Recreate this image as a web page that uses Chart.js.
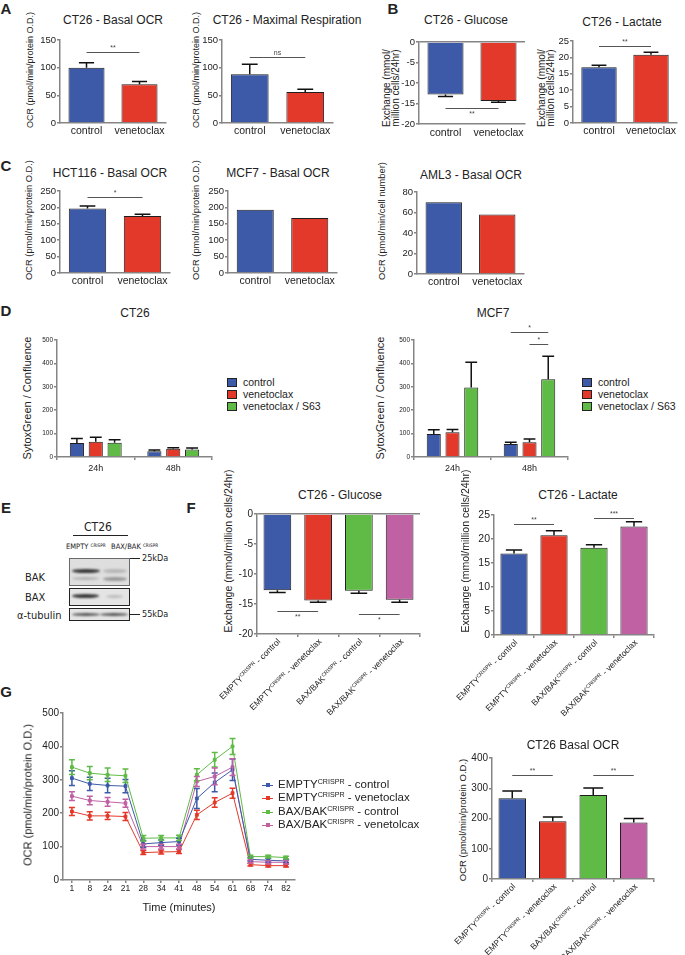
<!DOCTYPE html>
<html>
<head>
<meta charset="utf-8">
<title>CT26 venetoclax figure</title>
<script src="https://cdn.jsdelivr.net/npm/chart.js@4.4.1/dist/chart.umd.min.js"></script>
<style>
  html, body { margin: 0; padding: 0; background: #fff; }
  body { position: relative; width: 685px; height: 955px; overflow: hidden;
         font-family: "Liberation Sans", Arial, sans-serif; color: #222; }
  canvas { position: absolute; }
  .t { position: absolute; white-space: nowrap; transform: translate(-50%, -50%); line-height: 1; }
  .l { position: absolute; white-space: nowrap; transform: translate(0, -50%); line-height: 1; }
  .v { transform: translate(-50%, -50%) rotate(-90deg); text-align: center; }
  .slant { position: absolute; white-space: nowrap; line-height: 1; transform-origin: 0 0;
           transform: rotate(-45deg) translate(-100%, -50%); }
  .narrow { font-family: "Liberation Sans Narrow", "DejaVu Sans Condensed", "Liberation Sans", Arial, sans-serif; }
  sup { font-size: 0.62em; vertical-align: 0.55em; line-height: 0; }
  .box { position: absolute; box-sizing: border-box; }
</style>
</head>
<body>
<script>
// ---- data ----
const twoGroups = ['control', 'venetoclax'];
const ct26BasalOcr = [100, 70];
const ct26BasalOcrSem = [9, 5];
const ct26MaxResp = [88, 56];
const ct26MaxRespSem = [18, 5];
const ct26Glucose = [-12.8, -14.4];
const ct26GlucoseSem = [0.5, 0.3];
const ct26Lactate = [17.0, 20.8];
const ct26LactateSem = [0.6, 0.8];
const hct116Ocr = [197, 174];
const hct116OcrSem = [7, 5];
const mcf7Ocr = [193, 168];
const aml3Ocr = [70, 58];

const timePoints = ['24h', '48h'];
const sytoxGroups = ['control', 'venetoclax', 'venetoclax / S63'];
const ct26SytoxCtrl = [60, 25], ct26SytoxCtrlSem = [19, 5];
const ct26SytoxVen = [65, 35], ct26SytoxVenSem = [19, 4];
const ct26SytoxS63 = [61, 32], ct26SytoxS63Sem = [13, 6];
const mcf7SytoxCtrl = [98, 56], mcf7SytoxCtrlSem = [18, 7];
const mcf7SytoxVen = [106, 63], mcf7SytoxVenSem = [11, 14];
const mcf7SytoxS63 = [297, 332], mcf7SytoxS63Sem = [108, 99];

const crisprGroups = ['EMPTY|CRISPR| - control', 'EMPTY|CRISPR| - venetoclax',
                      'BAX/BAK|CRISPR| - control', 'BAX/BAK|CRISPR| - venetoclax'];
const crisprGlucose = [-12.7, -14.4, -12.8, -14.3];
const crisprGlucoseSem = [0.4, 0.3, 0.4, 0.4];
const crisprLactate = [17.0, 20.8, 18.2, 22.6];
const crisprLactateSem = [0.7, 0.9, 0.6, 1.0];
const crisprBasalOcr = [267, 191, 278, 187];
const crisprBasalOcrSem = [24, 14, 23, 13];

const minutes = ['1', '8', '24', '21', '28', '34', '41', '48', '54', '61', '68', '74', '82'];
const seriesNames = ['EMPTY|CRISPR| - control', 'EMPTY|CRISPR| - venetoclax',
                     'BAX/BAK|CRISPR| - control', 'BAX/BAK|CRISPR| - venetolcax'];
const emptyCtrl = [305, 288, 283, 281, 108, 112, 115, 244, 292, 330, 62, 59, 57];
const emptyCtrlSem = [22, 20, 22, 20, 10, 8, 10, 30, 28, 32, 5, 5, 5];
const emptyVen = [205, 192, 192, 190, 82, 84, 85, 195, 232, 260, 46, 43, 43];
const emptyVenSem = [12, 12, 11, 12, 6, 6, 6, 14, 14, 15, 4, 4, 4];
const baxCtrl = [338, 320, 315, 312, 125, 126, 126, 315, 360, 400, 70, 70, 67];
const baxCtrlSem = [22, 20, 20, 20, 8, 7, 8, 18, 22, 24, 4, 4, 4];
const baxVen = [251, 238, 234, 230, 100, 100, 100, 295, 310, 338, 55, 53, 53];
const baxVenSem = [13, 13, 13, 12, 7, 7, 7, 15, 25, 25, 5, 5, 5];

// ---- styling ----
const BLUE = '#3d5aa9', RED = '#e2392a', GREEN = '#5fbb46', PINK = '#c061a4';
const AXIS = '#858585';
const FONT = '"Liberation Sans", Arial, sans-serif';
Chart.defaults.font.family = FONT;
Chart.defaults.color = '#222';

function rich(s) {
    const p = s.split('|');
    return p.length === 3 ? p[0] + '<sup>' + p[1] + '</sup>' + p[2] : s;
}

function txt(s, x, y, size, cls, extra) {
    const d = document.createElement('div');
    d.className = cls || 't';
    d.style.left = x + 'px';
    d.style.top = y + 'px';
    d.style.fontSize = size + 'px';
    if (extra) Object.assign(d.style, extra);
    d.innerHTML = rich(s);
    document.body.appendChild(d);
    return d;
}

function block(l, t, w, h, style) {
    const d = document.createElement('div');
    d.className = 'box';
    Object.assign(d.style, { left: l + 'px', top: t + 'px', width: w + 'px', height: h + 'px' }, style);
    document.body.appendChild(d);
    return d;
}

// canvas around a plot rectangle [left, top, right, bottom] with margins for ticks
function place(r, m) {
    const c = document.createElement('canvas');
    const w = r[2] - r[0] + m.l + m.r, h = r[3] - r[1] + m.t + m.b;
    c.width = w;
    c.height = h;
    Object.assign(c.style, { left: (r[0] - m.l) + 'px', top: (r[1] - m.t) + 'px', width: w + 'px', height: h + 'px' });
    document.body.appendChild(c);
    return c;
}

const errorBars = {
    id: 'errorBars',
    afterDatasetsDraw(chart) {
        const ctx = chart.ctx, ys = chart.scales.y, isLine = chart.config.type === 'line';
        chart.data.datasets.forEach((ds, di) => {
            if (!ds.err) return;
            chart.getDatasetMeta(di).data.forEach((el, i) => {
                const v = ds.data[i], e = ds.err[i];
                const lo = isLine ? v - e : v;
                const hi = v < 0 ? v - e : v + e;
                const x = el.x, y0 = ys.getPixelForValue(lo), y1 = ys.getPixelForValue(hi);
                const w = isLine ? ds.cap : el.width * ds.cap;
                ctx.save();
                ctx.strokeStyle = isLine ? ds.borderColor : '#111';
                ctx.lineWidth = 1.5;
                ctx.beginPath();
                ctx.moveTo(x, y0); ctx.lineTo(x, y1);
                ctx.moveTo(x - w, y1); ctx.lineTo(x + w, y1);
                if (isLine) { ctx.moveTo(x - w, y0); ctx.lineTo(x + w, y0); }
                ctx.stroke();
                ctx.restore();
            });
        });
    }
};

function sigLines(items) {
    return {
        id: 'sigLines',
        afterDatasetsDraw(chart) {
            const ctx = chart.ctx, ys = chart.scales.y;
            items.forEach(s => {
                const a = chart.getDatasetMeta(s.a[0]).data[s.a[1]];
                const b = chart.getDatasetMeta(s.b[0]).data[s.b[1]];
                const py = Math.round(ys.getPixelForValue(s.v)) + 0.5;
                ctx.save();
                ctx.strokeStyle = '#555';
                ctx.lineWidth = 1;
                ctx.beginPath();
                ctx.moveTo(a.x, py); ctx.lineTo(b.x, py);
                ctx.stroke();
                ctx.fillStyle = '#444';
                ctx.font = '7px ' + FONT;
                ctx.textAlign = 'center';
                ctx.textBaseline = s.below ? 'top' : 'bottom';
                ctx.fillText(s.t, (a.x + b.x) / 2, s.below ? py + 2 : py - 1);
                ctx.restore();
            });
        }
    };
}

function baseOptions(m, x, y) {
    return {
        responsive: false, animation: false, devicePixelRatio: 1, events: [],
        layout: { autoPadding: false, padding: { left: 0, top: m.t, right: m.r, bottom: 0 } },
        plugins: { legend: { display: false }, tooltip: { enabled: false } },
        scales: { x, y }
    };
}

function barSet(data, err, color, cap, pct) {
    return {
        data, err, cap: cap || 0.21,
        backgroundColor: color, borderColor: '#1e1e1e', borderWidth: 1,
        categoryPercentage: pct ? pct[0] : 1, barPercentage: pct ? pct[1] : 0.68
    };
}

function bars(r, m, labels, datasets, y, o) {
    o = o || {};
    const c = place(r, m);
    const x = {
        grid: { display: !!o.xTicks, drawOnChartArea: false, drawTicks: !!o.xTicks, tickLength: 3, color: AXIS, lineWidth: 1.5 },
        border: { display: true, color: AXIS, width: 1.5 },
        ticks: { display: !o.hideLabels, font: { size: o.xSize || 10.5 }, padding: o.xPad === undefined ? 2 : o.xPad,
                 maxRotation: 0, autoSkip: false, color: '#222' },
        afterFit: a => { a.height = m.b; }
    };
    const yAxis = {
        min: y[0], max: y[1],
        ticks: { stepSize: y[2], font: { size: o.ySize || 9.5 }, padding: 1, color: '#222' },
        grid: o.zeroTop
            ? { drawOnChartArea: true, color: g => (g.tick && g.tick.value === 0 ? AXIS : 'rgba(0,0,0,0)'),
                tickColor: AXIS, tickLength: 3, lineWidth: 1.5 }
            : { drawOnChartArea: false, tickLength: 3, color: AXIS, lineWidth: 1.5 },
        border: { color: AXIS, width: 1.5 },
        afterFit: a => { a.width = m.l; }
    };
    const chart = new Chart(c, {
        type: 'bar',
        data: { labels, datasets },
        options: baseOptions(m, x, yAxis),
        plugins: [errorBars, sigLines(o.sig || [])]
    });
    if (o.hideLabels) slantLabels(chart, c, labels, 8.5);
    return chart;
}

function slantLabels(chart, c, labels, size) {
    const left = parseFloat(c.style.left), top = parseFloat(c.style.top);
    labels.forEach((lab, i) => {
        txt(lab, left + chart.scales.x.getPixelForTick(i) + 2, top + chart.chartArea.bottom + 6, size, 'slant');
    });
}

// ---- panel letters ----
txt('A', 6, 8, 15, 't', { fontWeight: 'bold' });
txt('B', 393, 8, 15, 't', { fontWeight: 'bold' });
txt('C', 6, 165, 15, 't', { fontWeight: 'bold' });
txt('D', 6, 310, 15, 't', { fontWeight: 'bold' });
txt('E', 6, 507, 15, 't', { fontWeight: 'bold' });
txt('F', 191, 507, 15, 't', { fontWeight: 'bold' });
txt('G', 6, 691, 15, 't', { fontWeight: 'bold' });

// ---- A ----
const mSmall = { l: 30, t: 10, r: 8, b: 18 };
txt('CT26 - Basal OCR', 113, 20, 12);
txt('OCR (pmol/min/protein O.D.)', 30, 70, 9, 't v');
bars([60, 40, 166, 123], mSmall, twoGroups,
    [barSet(ct26BasalOcr, ct26BasalOcrSem, [BLUE, RED])], [0, 150, 50],
    { sig: [{ a: [0, 0], b: [0, 1], v: 128, t: '**' }] });

txt('CT26 - Maximal Respiration', 287, 20, 12);
txt('OCR (pmol/min/protein O.D.)', 196, 70, 9, 't v');
bars([222, 40, 333, 123], mSmall, twoGroups,
    [barSet(ct26MaxResp, ct26MaxRespSem, [BLUE, RED])], [0, 150, 50],
    { sig: [{ a: [0, 0], b: [0, 1], v: 119, t: 'ns' }] });

// ---- B ----
txt('CT26 - Glucose', 466, 20, 12);
txt('Exchange (mmol/<br>million cells/24hr)', 391, 88, 10, 't v', { lineHeight: '8.5px' });
bars([419, 42, 525, 124], { l: 30, t: 10, r: 8, b: 22 }, twoGroups,
    [barSet(ct26Glucose, ct26GlucoseSem, [BLUE, RED])], [-20, 0, 5],
    { zeroTop: true, xPad: 3, sig: [{ a: [0, 0], b: [0, 1], v: -16.2, t: '**', below: true }] });

txt('CT26 - Lactate', 622, 22, 12);
txt('Exchange (mmol/<br>million cells/24hr)', 546, 88, 10, 't v', { lineHeight: '8.5px' });
bars([573, 41, 677, 123], { l: 26, t: 10, r: 6, b: 20 }, twoGroups,
    [barSet(ct26Lactate, ct26LactateSem, [BLUE, RED])], [0, 25, 5],
    { sig: [{ a: [0, 0], b: [0, 1], v: 23.5, t: '**' }] });

// ---- C ----
txt('HCT116 - Basal OCR', 110, 173, 12);
txt('OCR (pmol/min/protein O.D.)', 30, 220, 9.3, 't v');
bars([60, 191, 170, 273], mSmall, twoGroups,
    [barSet(hct116Ocr, hct116OcrSem, [BLUE, RED])], [0, 250, 50],
    { sig: [{ a: [0, 0], b: [0, 1], v: 232, t: '*' }] });

txt('MCF7 - Basal OCR', 278, 173, 12);
txt('OCR (pmol/min/protein O.D.)', 197, 220, 9.3, 't v');
bars([228, 191, 337, 273], mSmall, twoGroups,
    [barSet(mcf7Ocr, null, [BLUE, RED])], [0, 250, 50]);

txt('AML3 - Basal OCR', 471, 175, 12);
txt('OCR (pmol/min/cell number)', 383, 221, 9.3, 't v');
bars([417, 192, 524, 274], mSmall, twoGroups,
    [barSet(aml3Ocr, null, [BLUE, RED])], [0, 80, 20]);

// ---- D ----
const mD = { l: 28, t: 24, r: 8, b: 18 };
const dPct = [0.73, 0.75];
function sytoxLegend(x, tx) {
    [BLUE, RED, GREEN].forEach((col, i) => {
        const y = 382 + i * 12;
        block(x, y - 4.5, 10, 9, { background: col, border: '1px solid #222' });
        txt(sytoxGroups[i], tx, y, 10.5, 'l');
    });
}
txt('CT26', 135, 313, 12);
txt('SytoxGreen / Confluence', 27, 398, 11, 't v');
bars([57, 340, 212, 457], mD, timePoints, [
    barSet(ct26SytoxCtrl, ct26SytoxCtrlSem, BLUE, 0.42, dPct),
    barSet(ct26SytoxVen, ct26SytoxVenSem, RED, 0.42, dPct),
    barSet(ct26SytoxS63, ct26SytoxS63Sem, GREEN, 0.42, dPct)
], [0, 500, 100], { ySize: 6.5, xSize: 9, xTicks: true, xPad: 3 });
sytoxLegend(227, 243);

txt('MCF7', 493, 313, 12);
txt('SytoxGreen / Confluence', 380, 398, 11, 't v');
bars([414, 340, 568, 457], mD, timePoints, [
    barSet(mcf7SytoxCtrl, mcf7SytoxCtrlSem, BLUE, 0.42, dPct),
    barSet(mcf7SytoxVen, mcf7SytoxVenSem, RED, 0.42, dPct),
    barSet(mcf7SytoxS63, mcf7SytoxS63Sem, GREEN, 0.42, dPct)
], [0, 500, 100], {
    ySize: 6.5, xSize: 9, xTicks: true, xPad: 3,
    sig: [{ a: [0, 1], b: [2, 1], v: 534, t: '*' }, { a: [1, 1], b: [2, 1], v: 483, t: '*' }]
});
sytoxLegend(582, 598);

// ---- E (western blot) ----
txt('CT26', 98, 527, 12, 't narrow');
block(73, 535, 55, 1, { background: '#222' });
txt('EMPTY |CRISPR|', 66, 547, 7.5, 'l narrow');
txt('BAX/BAK |CRISPR|', 111, 547, 7.5, 'l narrow');
txt('BAK', 25, 577, 11, 'l narrow');
txt('BAX', 25, 597, 11, 'l narrow');
txt('α-tubulin', 17, 615, 11, 'l narrow');
block(69, 558, 61, 28, { background: '#dedede', border: '1.5px solid #6a6a6a' });
block(69, 588, 61, 18, { background: '#e4e4e4', border: '1.5px solid #222' });
block(69, 608, 61, 13, { background: '#e4e4e4', border: '1.5px solid #222' });
function band(l, t, w, h, a) {
    block(l, t, w, h, { background: 'rgba(25,25,25,' + a + ')', borderRadius: '50%', filter: 'blur(0.9px)' });
}
band(72, 569, 28, 4, 0.85);
band(103, 569, 24, 4, 0.2);
band(72, 577, 27, 3, 0.22);
band(103, 577, 24, 4, 0.35);
band(72, 594, 27, 4, 0.85);
band(106, 595, 17, 3, 0.2);
band(72, 613, 28, 3, 0.7);
band(100, 613, 28, 3, 0.7);
block(130, 558, 10, 1, { background: '#222' });
block(130, 614, 10, 1, { background: '#222' });
txt('25kDa', 142, 558, 9, 'l narrow');
txt('55kDa', 142, 614, 9, 'l narrow');

// ---- F ----
txt('CT26 - Glucose', 340, 495, 12);
txt('Exchange (mmol/million cells/24hr)', 228, 551, 10.5, 't v');
bars([257, 514, 420, 634], { l: 28, t: 10, r: 6, b: 8 }, crisprGroups,
    [barSet(crisprGlucose, crisprGlucoseSem, [BLUE, RED, GREEN, PINK], 0.3)], [-20, 0, 5], {
        zeroTop: true, xTicks: true, hideLabels: true, ySize: 10,
        sig: [{ a: [0, 0], b: [0, 1], v: -16.2, t: '**', below: true },
              { a: [0, 2], b: [0, 3], v: -16.6, t: '*', below: true }]
    });

txt('CT26 - Lactate', 578, 495, 12);
txt('Exchange (mmol/million cells/24hr)', 465, 551, 10.5, 't v');
bars([494, 515, 654, 635], { l: 26, t: 12, r: 6, b: 8 }, crisprGroups,
    [barSet(crisprLactate, crisprLactateSem, [BLUE, RED, GREEN, PINK], 0.3)], [0, 25, 5], {
        xTicks: true, hideLabels: true, ySize: 10.5,
        sig: [{ a: [0, 0], b: [0, 1], v: 23.1, t: '**' },
              { a: [0, 2], b: [0, 3], v: 24.4, t: '***' }]
    });

// ---- G (OCR time course) ----
function lineSet(data, err, color) {
    return {
        data, err, cap: 3,
        borderColor: color, backgroundColor: color, pointBackgroundColor: color, pointBorderColor: color,
        borderWidth: 1, pointStyle: 'rect', pointRadius: 2, tension: 0
    };
}
const mG = { l: 30, t: 10, r: 8, b: 14 };
const cG = place([63, 713, 295, 880], mG);
new Chart(cG, {
    type: 'line',
    data: {
        labels: minutes,
        datasets: [
            lineSet(emptyCtrl, emptyCtrlSem, BLUE),
            lineSet(emptyVen, emptyVenSem, RED),
            lineSet(baxCtrl, baxCtrlSem, GREEN),
            lineSet(baxVen, baxVenSem, PINK)
        ]
    },
    options: baseOptions(mG, {
        offset: true,
        grid: { display: true, drawOnChartArea: false, tickLength: 3, color: AXIS, lineWidth: 1.5 },
        border: { color: AXIS, width: 1.5 },
        ticks: { font: { size: 8.5 }, padding: 1, maxRotation: 0, autoSkip: false, color: '#222' },
        afterFit: a => { a.height = mG.b; }
    }, {
        min: 0, max: 500,
        ticks: { stepSize: 100, font: { size: 10 }, padding: 1, color: '#222' },
        grid: { drawOnChartArea: false, tickLength: 3, color: AXIS, lineWidth: 1.5 },
        border: { color: AXIS, width: 1.5 },
        afterFit: a => { a.width = mG.l; }
    }),
    plugins: [errorBars]
});
txt('OCR (pmol/min/protein O.D.)', 28, 795, 11, 't v');
txt('Time (minutes)', 179, 907, 11);
[BLUE, RED, GREEN, PINK].forEach((col, i) => {
    const y = [785, 798, 812, 825][i];
    block(262, y - 0.5, 11, 1, { background: col });
    block(265.5, y - 2, 4, 4, { background: col });
    txt(seriesNames[i], 278, y, 11.5, 'l');
});

txt('CT26 Basal OCR', 573, 745, 12);
txt('OCR (pmol/min/protein O.D.)', 463, 820, 9.5, 't v');
bars([492, 758, 654, 879], { l: 28, t: 10, r: 6, b: 8 }, crisprGroups,
    [barSet(crisprBasalOcr, crisprBasalOcrSem, [BLUE, RED, GREEN, PINK], 0.36)], [0, 400, 100], {
        xTicks: true, hideLabels: true, ySize: 10,
        sig: [{ a: [0, 0], b: [0, 1], v: 344, t: '**' },
              { a: [0, 2], b: [0, 3], v: 344, t: '**' }]
    });
</script>
</body>
</html>
